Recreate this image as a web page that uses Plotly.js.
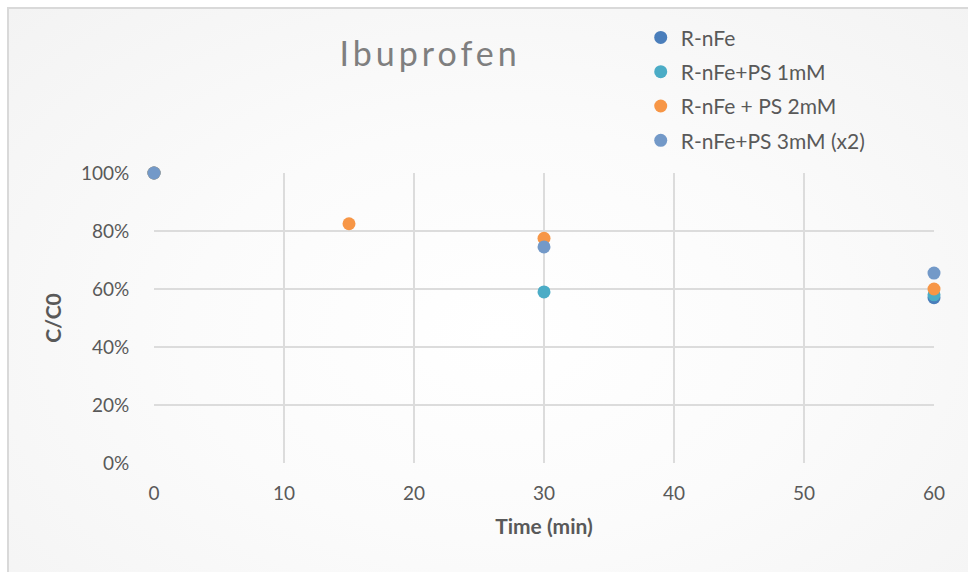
<!DOCTYPE html>
<html>
<head>
<meta charset="utf-8">
<script src="https://cdn.plot.ly/plotly-3.0.1.min.js"></script>
<style>
  html, body { margin: 0; padding: 0; background: #ffffff; }
  #frame {
    position: absolute; left: 0; top: 0; width: 968px; height: 572px; overflow: hidden;
  }
  #panel {
    position: absolute; left: 7px; top: 7px; width: 980px; height: 590px;
    border-left: 2px solid #d9d9d9; border-top: 2px solid #d9d9d9;
    background: radial-gradient(ellipse at 50% 55%, #ffffff 0%, #fbfbfb 45%, #f3f3f3 100%);
  }
  #chart { position: absolute; left: 0; top: 0; width: 968px; height: 572px; }
  #chart .gtitle { letter-spacing: 4px; }
</style>
</head>
<body>
<div id="frame">
  <div id="panel"></div>
  <div id="chart"></div>
</div>
<script>
// Ibuprofen removal, C/C0 over time
const seriesNames = ["R-nFe", "R-nFe+PS 1mM", "R-nFe + PS 2mM", "R-nFe+PS 3mM (x2)"];

const timeNFe = [0, 60];
const ratioNFe = [1.00, 0.57];

const time1mM = [0, 30, 60];
const ratio1mM = [1.00, 0.59, 0.58];

const time2mM = [0, 15, 30, 60];
const ratio2mM = [1.00, 0.825, 0.775, 0.60];

const time3mM = [0, 30, 60];
const ratio3mM = [1.00, 0.745, 0.655];

const xTicks = [0, 10, 20, 30, 40, 50, 60];
const yTicks = [0, 0.2, 0.4, 0.6, 0.8, 1.0];

const colors = ["#4a7ebb", "#4bacc6", "#f79646", "#7399c8"];
const xs = [timeNFe, time1mM, time2mM, time3mM];
const ys = [ratioNFe, ratio1mM, ratio2mM, ratio3mM];

const FONT = "Lato, 'Open Sans', sans-serif";

const traces = seriesNames.map((name, i) => ({
  type: "scatter",
  mode: "markers",
  name: name,
  x: xs[i],
  y: ys[i],
  cliponaxis: false,
  legendgroup: "g" + i,
  marker: { color: colors[i], size: 13 }
}));

const layout = {
  width: 968,
  height: 572,
  paper_bgcolor: "rgba(0,0,0,0)",
  plot_bgcolor: "rgba(0,0,0,0)",
  margin: { l: 154, r: 34, t: 173, b: 109, pad: 0 },
  font: { family: FONT, color: "#595959", size: 19 },
  title: {
    text: "Ibuprofen",
    font: { family: FONT, size: 34, color: "#7f7f7f" },
    x: 0.354, xref: "paper", xanchor: "center",
    y: 0.905, yref: "container", yanchor: "middle"
  },
  showlegend: true,
  legend: {
    x: 0.624, xanchor: "left",
    y: 1.537, yanchor: "top",
    bgcolor: "rgba(0,0,0,0)",
    font: { family: FONT, size: 21, color: "#595959" },
    tracegroupgap: 4,
    itemwidth: 30
  },
  xaxis: {
    range: [0, 60],
    tickvals: xTicks,
    ticks: "outside", ticklen: 13, tickcolor: "rgba(0,0,0,0)",
    showgrid: true, gridcolor: "#dcdcdc", gridwidth: 1.6,
    zeroline: false, showline: false,
    tickfont: { family: FONT, size: 19, color: "#595959" },
    title: {
      text: "<b>Time (min)</b>",
      font: { family: FONT, size: 21, color: "#595959" },
      standoff: 16
    }
  },
  yaxis: {
    range: [0, 1],
    tickvals: yTicks,
    tickformat: ".0%",
    ticks: "outside", ticklen: 20, tickcolor: "rgba(0,0,0,0)",
    showgrid: true, gridcolor: "#dcdcdc", gridwidth: 1.6,
    zeroline: false, showline: false,
    tickfont: { family: FONT, size: 19, color: "#595959" },
    title: {
      text: "<b>C/C0</b>",
      font: { family: FONT, size: 21, color: "#595959" },
      standoff: 13
    }
  }
};

Plotly.newPlot("chart", traces, layout, { displayModeBar: false, staticPlot: true });
</script>
</body>
</html>
